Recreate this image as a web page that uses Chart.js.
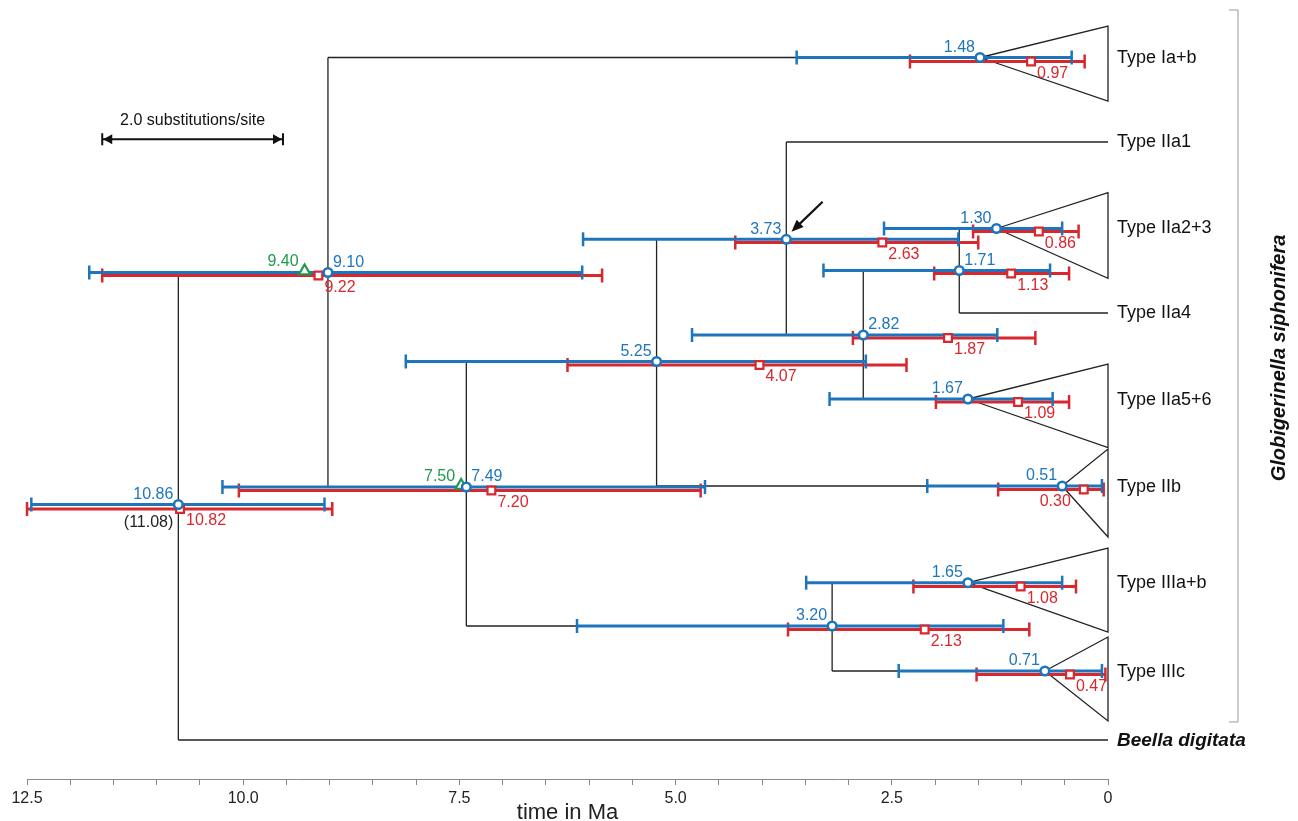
<!DOCTYPE html>
<html>
<head>
<meta charset="utf-8">
<script src="https://cdn.jsdelivr.net/npm/chart.js@4/dist/chart.umd.min.js"></script>
<style>
  html, body { margin: 0; padding: 0; background: #fff; }
  #tree { display: block; }
</style>
</head>
<body>
<canvas id="tree" width="1298" height="821"></canvas>
<script>
const FONT = "'Liberation Sans', Arial, Helvetica, sans-serif";
const BLUE = '#1d76bd';
const RED = '#d9272e';
const GREEN = '#1f9a4b';
const INK = '#222';

// node ages (Ma), blue and red estimates with their intervals
const blueText  = ['10.86', '9.10', '7.49', '5.25', '3.73', '2.82', '1.71', '1.30', '1.48', '1.67', '0.51', '1.65', '3.20', '0.71'];
const blueAge   = [10.75, 9.02, 7.42, 5.22, 3.72, 2.83, 1.72, 1.29, 1.48, 1.62, 0.53, 1.62, 3.19, 0.73];
const blueOld   = [12.45, 11.78, 10.24, 8.12, 6.07, 4.81, 3.29, 2.59, 3.60, 3.22, 2.09, 3.49, 6.14, 2.42];
const blueYoung = [9.06, 6.08, 4.66, 2.80, 1.73, 1.28, 0.67, 0.53, 0.42, 0.64, 0.07, 0.53, 1.21, 0.07];
const blueSide  = ['L', 'R', 'R', 'L', 'L', 'R', 'R', 'L', 'L', 'L', 'L', 'L', 'L', 'L'];
const nodeRow   = [504.5, 272.5, 487, 361.5, 239.3, 335, 270.5, 228.5, 57.5, 399, 486, 582.7, 626, 671];

const redText  = ['10.82', '9.22', '7.20', '4.07', '2.63', '1.87', '1.13', '0.86', '0.97', '1.09', '0.30', '1.08', '2.13', '0.47'];
const redAge   = [10.73, 9.13, 7.13, 4.03, 2.61, 1.85, 1.12, 0.80, 0.89, 1.04, 0.28, 1.01, 2.12, 0.44];
const redOld   = [12.50, 11.63, 10.05, 6.25, 4.31, 2.95, 2.01, 1.56, 2.29, 1.99, 1.27, 2.25, 3.70, 1.52];
const redYoung = [8.97, 5.85, 4.71, 2.33, 1.50, 0.84, 0.45, 0.34, 0.27, 0.45, 0.05, 0.37, 0.91, 0.03];
const redSide  = ['R', 'R', 'R', 'R', 'R', 'R', 'R', 'R', 'R', 'R', 'L', 'R', 'R', 'R'];
const redRow   = [509, 275.5, 490.5, 365, 242.5, 338, 273.5, 231.5, 61.5, 402, 489.5, 586.5, 629.5, 674.5];

const rootAltText = '(11.08)';

// fossil calibrations (green)
const calText = ['9.40', '7.50'];
const calAge  = [9.29, 7.48];
const calRow  = [271, 485.5];

// tree branches: vertical [age, rowTop, rowBottom], horizontal [ageFrom, ageTo, row]
const vBranches = [
  [10.75, 272.5, 740], [9.02, 57.5, 487], [7.42, 361.5, 626], [5.22, 239.3, 486],
  [3.72, 142, 335], [2.83, 270.5, 399], [1.72, 228.5, 313], [3.19, 582.7, 671]
];
const hBranches = [
  [10.75, 0, 740], [10.75, 9.02, 272.5], [9.02, 1.48, 57.5], [9.02, 7.42, 487],
  [7.42, 5.22, 361.5], [7.42, 3.19, 626], [5.22, 3.72, 239.3], [5.22, 0.53, 486],
  [3.72, 0, 142], [3.72, 2.83, 335], [2.83, 1.72, 270.5], [2.83, 1.62, 399],
  [1.72, 1.29, 228.5], [1.72, 0, 313], [3.19, 1.62, 582.7], [3.19, 0.73, 671]
];

// collapsed clades: apex age/row, base rows at the present
const cladeAge    = [1.48, 1.29, 1.62, 0.53, 1.62, 0.73];
const cladeRow    = [57.5, 228.5, 399, 486, 582.7, 671];
const cladeTop    = [26, 192.7, 364, 449, 548, 637];
const cladeBottom = [101, 278.3, 447.7, 537, 632, 721];

const tipNames = ['Type Ia+b', 'Type IIa1', 'Type IIa2+3', 'Type IIa4', 'Type IIa5+6', 'Type IIb', 'Type IIIa+b', 'Type IIIc', 'Beella digitata'];
const tipRows  = [58, 142, 228, 313, 400, 487, 583, 672, 741];

const groupName = 'Globigerinella siphonifera';
const groupRows = [10, 722];
const groupTextRow = 358;

const scaleBar = { from: 11.63, to: 9.54, row: 139.3, text: '2.0 substitutions/site' };
const arrow = { from: [3.30, 201.7], to: [3.66, 231.7] };

const datasets = [];

vBranches.forEach(b => {
  datasets.push({ data: [{ x: b[0], y: b[1] }, { x: b[0], y: b[2] }], showLine: true,
    borderColor: INK, borderWidth: 1.3, pointRadius: 0, order: 5, clip: false });
});
hBranches.forEach(b => {
  datasets.push({ data: [{ x: b[0], y: b[2] }, { x: b[1], y: b[2] }], showLine: true,
    borderColor: INK, borderWidth: 1.3, pointRadius: 0, order: 5, clip: false });
});
cladeAge.forEach((a, i) => {
  datasets.push({
    data: [{ x: a, y: cladeRow[i] }, { x: 0, y: cladeTop[i] }, { x: 0, y: cladeBottom[i] }, { x: a, y: cladeRow[i] }],
    showLine: true, borderColor: INK, borderWidth: 1.3, pointRadius: 0, order: 4, clip: false
  });
});

function errorBar(oldV, youngV, row, color, order) {
  return {
    data: [{ x: oldV, y: row }, { x: youngV, y: row }], showLine: true,
    borderColor: color, borderWidth: 3, pointStyle: 'line', pointRotation: 90,
    pointRadius: 7, pointBorderWidth: 2.5, pointBorderColor: color, order: order, clip: false
  };
}
blueAge.forEach((a, i) => {
  datasets.push(errorBar(redOld[i], redYoung[i], redRow[i], RED, 3));
  datasets.push(errorBar(blueOld[i], blueYoung[i], nodeRow[i], BLUE, 2));
});

datasets.push({
  data: redAge.map((a, i) => ({ x: a, y: redRow[i] })),
  pointStyle: 'rect', pointRadius: 5.5, pointBorderWidth: 2.2,
  pointBorderColor: RED, pointBackgroundColor: '#fff', showLine: false, order: 1, clip: false
});
datasets.push({
  data: blueAge.map((a, i) => ({ x: a, y: nodeRow[i] })),
  pointStyle: 'circle', pointRadius: 4.3, pointBorderWidth: 2.5,
  pointBorderColor: BLUE, pointBackgroundColor: '#fff', showLine: false, order: 0, clip: false
});
datasets.push({
  data: calAge.map((a, i) => ({ x: a, y: calRow[i] })),
  pointStyle: 'triangle', pointRadius: 6.5, pointBorderWidth: 2.2,
  pointBorderColor: GREEN, pointBackgroundColor: '#fff', showLine: false, order: 0, clip: false
});

const annotate = {
  id: 'annotate',
  afterDatasetsDraw(chart) {
    const { ctx, chartArea, scales: { x, y } } = chart;
    ctx.save();
    ctx.textBaseline = 'middle';

    // node value labels
    ctx.font = '16px ' + FONT;
    blueAge.forEach((a, i) => {
      const bx = x.getPixelForValue(a), by = y.getPixelForValue(nodeRow[i]);
      ctx.fillStyle = BLUE;
      ctx.textAlign = blueSide[i] === 'R' ? 'left' : 'right';
      ctx.fillText(blueText[i], blueSide[i] === 'R' ? bx + 5 : bx - 5, by - 10);

      const rx = x.getPixelForValue(redAge[i]), ry = y.getPixelForValue(redRow[i]);
      ctx.fillStyle = RED;
      ctx.textAlign = redSide[i] === 'R' ? 'left' : 'right';
      ctx.fillText(redText[i], redSide[i] === 'R' ? rx + 6 : rx - 13, ry + 12);
    });
    ctx.fillStyle = INK;
    ctx.textAlign = 'right';
    ctx.fillText(rootAltText, x.getPixelForValue(blueAge[0]) - 5, y.getPixelForValue(redRow[0]) + 14);

    ctx.fillStyle = GREEN;
    calAge.forEach((a, i) => {
      ctx.fillText(calText[i], x.getPixelForValue(a) - 6, y.getPixelForValue(calRow[i]) - 9);
    });

    // tip labels
    const tx = x.getPixelForValue(0) + 9;
    ctx.textAlign = 'left';
    ctx.fillStyle = '#111';
    tipNames.forEach((t, i) => {
      ctx.font = (i === tipNames.length - 1 ? 'italic bold 19px ' : '18px ') + FONT;
      ctx.fillText(t, tx, y.getPixelForValue(tipRows[i]));
    });

    // group bracket and name
    const gx = chartArea.right + 130;
    const g0 = y.getPixelForValue(groupRows[0]), g1 = y.getPixelForValue(groupRows[1]);
    ctx.strokeStyle = '#999';
    ctx.lineWidth = 1;
    ctx.beginPath();
    ctx.moveTo(gx - 9, g0); ctx.lineTo(gx, g0); ctx.lineTo(gx, g1); ctx.lineTo(gx - 9, g1);
    ctx.stroke();
    ctx.save();
    ctx.translate(chartArea.right + 171, y.getPixelForValue(groupTextRow));
    ctx.rotate(-Math.PI / 2);
    ctx.textAlign = 'center';
    ctx.fillStyle = '#111';
    ctx.font = 'italic bold 20px ' + FONT;
    ctx.fillText(groupName, 0, 0);
    ctx.restore();

    // scale bar
    const s0 = x.getPixelForValue(scaleBar.from), s1 = x.getPixelForValue(scaleBar.to);
    const sy = y.getPixelForValue(scaleBar.row);
    ctx.strokeStyle = '#111';
    ctx.fillStyle = '#111';
    ctx.lineWidth = 2;
    ctx.beginPath();
    ctx.moveTo(s0, sy); ctx.lineTo(s1, sy);
    ctx.moveTo(s0, sy - 6); ctx.lineTo(s0, sy + 6);
    ctx.moveTo(s1, sy - 6); ctx.lineTo(s1, sy + 6);
    ctx.stroke();
    ctx.beginPath();
    ctx.moveTo(s0 + 1, sy); ctx.lineTo(s0 + 10, sy - 5); ctx.lineTo(s0 + 10, sy + 5); ctx.closePath();
    ctx.moveTo(s1 - 1, sy); ctx.lineTo(s1 - 10, sy - 5); ctx.lineTo(s1 - 10, sy + 5); ctx.closePath();
    ctx.fill();
    ctx.font = '16px ' + FONT;
    ctx.textAlign = 'center';
    ctx.fillText(scaleBar.text, (s0 + s1) / 2, sy - 19);

    // arrow pointing at node 3.73
    const ax0 = x.getPixelForValue(arrow.from[0]), ay0 = y.getPixelForValue(arrow.from[1]);
    const ax1 = x.getPixelForValue(arrow.to[0]), ay1 = y.getPixelForValue(arrow.to[1]);
    const ang = Math.atan2(ay1 - ay0, ax1 - ax0);
    ctx.lineWidth = 2.2;
    ctx.beginPath();
    ctx.moveTo(ax0, ay0);
    ctx.lineTo(ax1 - 8 * Math.cos(ang), ay1 - 8 * Math.sin(ang));
    ctx.stroke();
    ctx.beginPath();
    ctx.moveTo(ax1, ay1);
    ctx.lineTo(ax1 - 12 * Math.cos(ang) + 5 * Math.sin(ang), ay1 - 12 * Math.sin(ang) - 5 * Math.cos(ang));
    ctx.lineTo(ax1 - 12 * Math.cos(ang) - 5 * Math.sin(ang), ay1 - 12 * Math.sin(ang) + 5 * Math.cos(ang));
    ctx.closePath();
    ctx.fill();

    ctx.restore();
  }
};

new Chart(document.getElementById('tree'), {
  type: 'scatter',
  data: { datasets: datasets },
  options: {
    responsive: false,
    devicePixelRatio: 1,
    animation: false,
    events: [],
    layout: { autoPadding: false, padding: { left: 27, right: 190, top: 0, bottom: 0 } },
    plugins: { legend: { display: false }, tooltip: { enabled: false } },
    scales: {
      x: {
        type: 'linear', min: 0, max: 12.5, reverse: true, position: 'bottom',
        border: { color: '#888', width: 1 },
        grid: { drawOnChartArea: false, drawTicks: true, tickLength: 6, color: '#888' },
        ticks: {
          stepSize: 0.5, autoSkip: false, maxRotation: 0, padding: 6, color: INK,
          font: { family: FONT, size: 16, lineHeight: 1 },
          callback: v => {
            const k = v / 2.5;
            if (Math.abs(k - Math.round(k)) > 1e-6) return '';
            return v === 0 ? '0' : v.toFixed(1);
          }
        },
        title: {
          display: true, text: 'time in Ma', color: INK,
          font: { family: FONT, size: 22, lineHeight: 1 },
          padding: { top: -11, bottom: -3 }
        }
      },
      y: { type: 'linear', min: 0, max: 779, reverse: true, display: false }
    }
  },
  plugins: [annotate]
});
</script>
</body>
</html>
